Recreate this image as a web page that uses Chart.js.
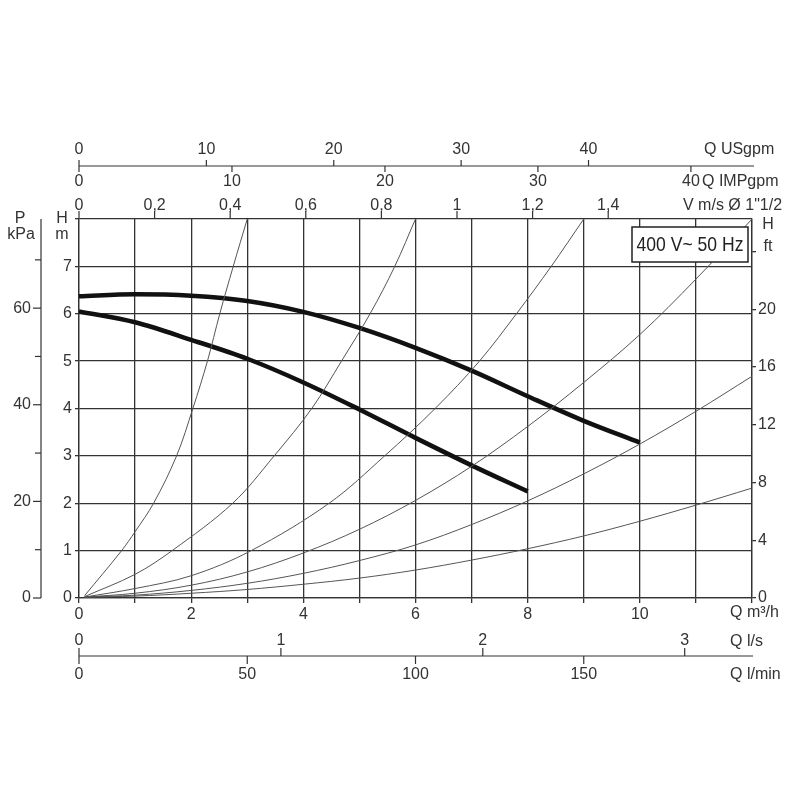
<!DOCTYPE html>
<html>
<head>
<meta charset="utf-8">
<script src="https://cdn.jsdelivr.net/npm/chart.js@4.4.1/dist/chart.umd.min.js"></script>
<style>
  html, body { margin: 0; padding: 0; background: #fff; }
  canvas { display: block; }
</style>
</head>
<body>
<canvas id="pumpChart" width="800" height="800"></canvas>
<script>
// pump curves, Q in m3/h, H in m
const pumpHighQ = [0, 1, 2, 3, 4, 5, 6, 7, 8, 9, 10];
const pumpHighH = [6.37, 6.41, 6.38, 6.27, 6.04, 5.70, 5.28, 4.80, 4.26, 3.74, 3.28];
const pumpLowQ = [0, 1, 2, 3, 4, 5, 6, 7, 8];
const pumpLowH = [6.05, 5.82, 5.45, 5.05, 4.55, 3.98, 3.38, 2.80, 2.25];

// system (pipe) curves, thin lines
const sys1Q = [0.1, 0.76, 1, 1.33, 1.74, 2.03, 2.29, 2.51, 2.75, 3.0];
const sys1H = [0.05, 1, 1.4, 2, 3, 4, 5, 6, 7, 8];
const sys2Q = [0.1, 1, 1.66, 2.74, 3.48, 4.15, 4.68, 5.19, 5.63, 6.0];
const sys2H = [0.03, 0.5, 1, 2, 3, 4, 5, 6, 7, 8];
const sys3Q = [0.1, 1, 2, 3.07, 4.46, 5.45, 6.35, 7.14, 7.8, 8.42, 9.0];
const sys3H = [0.02, 0.2, 0.47, 1, 2, 3, 4, 5, 6, 7, 8];
const sys4Q = [0.1, 1, 2, 3, 4, 5, 6, 7, 8, 9, 10, 11, 12];
const sys4H = [0.02, 0.1, 0.27, 0.55, 0.95, 1.45, 2.06, 2.78, 3.62, 4.55, 5.56, 6.73, 8.0];
const sys5Q = [0.1, 1, 2, 3, 4, 5, 6, 7, 8, 9, 10, 11, 12];
const sys5H = [0.02, 0.06, 0.16, 0.31, 0.52, 0.79, 1.12, 1.55, 2.05, 2.62, 3.25, 3.94, 4.68];
const sys6Q = [0.1, 1, 2, 3, 4, 5, 6, 7, 8, 9, 10, 11, 12];
const sys6H = [0.02, 0.04, 0.1, 0.18, 0.29, 0.42, 0.59, 0.8, 1.04, 1.31, 1.62, 1.96, 2.32];

// axis ticks
const qLabels = [0, 2, 4, 6, 8, 10];
const hLabels = [0, 1, 2, 3, 4, 5, 6, 7];
const ftTicks = [0, 4, 8, 12, 16, 20, 24];
const ftLabels = ['0', '4', '8', '12', '16', '20', ''];
const usgpmTicks = [0, 10, 20, 30, 40];
const impTicks = [0, 10, 20, 30, 40];
const velTicks = [0, 0.2, 0.4, 0.6, 0.8, 1, 1.2, 1.4];
const velLabels = ['0', '0,2', '0,4', '0,6', '0,8', '1', '1,2', '1,4'];
const lsTicks = [0, 1, 2, 3];
const lminTicks = [0, 50, 100, 150];
const kpaTicks = [0, 20, 40, 60];
const kpaMinor = [10, 30, 50, 70];

// unit conversions to m3/h and m
const USGPM = 0.2271247;
const IMPGPM = 0.2727655;
const LS = 3.6;
const LMIN = 0.06;
const VEL = 6.74; // m3/h per m/s in 1"1/2 pipe
const FT = 3.28084;
const KPA = 1 / 9.80665;

const FONT = '"Liberation Sans", Arial, sans-serif';
const gridColor = '#333';
const textColor = '#333';

Chart.defaults.color = textColor;
Chart.defaults.font.family = FONT;
Chart.defaults.font.size = 16;

function toPoints(qs, hs) {
  return qs.map((q, i) => ({ x: q, y: hs[i] }));
}

const systemCurves = [[sys1Q, sys1H], [sys2Q, sys2H], [sys3Q, sys3H], [sys4Q, sys4H], [sys5Q, sys5H], [sys6Q, sys6H]];

const datasets = systemCurves.map(([q, h]) => ({
  data: toPoints(q, h),
  borderColor: '#555',
  borderWidth: 1,
  pointRadius: 0,
  tension: 0.35,
}));
datasets.push({
  data: toPoints(pumpHighQ, pumpHighH),
  borderColor: '#111',
  borderWidth: 4.5,
  pointRadius: 0,
  cubicInterpolationMode: 'monotone',
});
datasets.push({
  data: toPoints(pumpLowQ, pumpLowH),
  borderColor: '#111',
  borderWidth: 4.5,
  pointRadius: 0,
  cubicInterpolationMode: 'monotone',
});

// extra unit axes drawn off the main scales
const extraAxes = {
  id: 'extraAxes',
  afterDatasetsDraw(chart) {
    const { ctx } = chart;
    // label box
    ctx.save();
    ctx.fillStyle = '#fff';
    ctx.strokeStyle = '#222';
    ctx.lineWidth = 1.5;
    ctx.fillRect(632, 227, 116, 35);
    ctx.strokeRect(632, 227, 116, 35);
    ctx.fillStyle = '#222';
    ctx.font = '21px ' + FONT;
    ctx.textBaseline = 'middle';
    ctx.textAlign = 'center';
    const label = '400 V~ 50 Hz';
    const w = ctx.measureText(label).width;
    ctx.translate(690, 245);
    ctx.scale(Math.min(1, 107 / w), 1);
    ctx.fillText(label, 0, 0);
    ctx.restore();
  },
  afterDraw(chart) {
    const { ctx } = chart;
    const xs = chart.scales.x;
    const ys = chart.scales.y;
    const x0 = xs.getPixelForValue(0);
    const x12 = xs.getPixelForValue(12);
    const top = ys.getPixelForValue(8);
    const bottom = ys.getPixelForValue(0);

    ctx.save();
    ctx.strokeStyle = gridColor;
    ctx.fillStyle = textColor;
    ctx.lineWidth = 1.2;
    ctx.font = '16px ' + FONT;
    ctx.textAlign = 'center';
    ctx.textBaseline = 'middle';

    const seg = (ax, ay, bx, by) => {
      ctx.beginPath();
      ctx.moveTo(ax, ay);
      ctx.lineTo(bx, by);
      ctx.stroke();
    };

    // top: USgpm above, IMPgpm below the same line
    seg(x0, 166, x12 + 2, 166);
    usgpmTicks.forEach(v => {
      const px = xs.getPixelForValue(v * USGPM);
      seg(px, 166, px, 160);
      ctx.fillText(String(v), px, 150);
    });
    impTicks.forEach(v => {
      const px = xs.getPixelForValue(v * IMPGPM);
      seg(px, 166, px, 172);
      ctx.fillText(String(v), px, 182);
    });

    // velocity on the top edge of the plot
    velTicks.forEach((v, i) => {
      const px = xs.getPixelForValue(v * VEL);
      seg(px, top, px, top - 8);
      ctx.fillText(velLabels[i], px, 206);
    });

    // bottom: l/s above, l/min below the same line
    seg(x0, 656, x12 + 1, 656);
    lsTicks.forEach(v => {
      const px = xs.getPixelForValue(v * LS);
      seg(px, 656, px, 648);
      ctx.fillText(String(v), px, 641);
    });
    lminTicks.forEach(v => {
      const px = xs.getPixelForValue(v * LMIN);
      seg(px, 656, px, 664);
      ctx.fillText(String(v), px, 675);
    });

    // kPa axis on the far left
    seg(41, top, 41, bottom);
    ctx.textAlign = 'right';
    kpaTicks.forEach(v => {
      const py = ys.getPixelForValue(v * KPA);
      seg(41, py, 33, py);
      ctx.fillText(String(v), 31, py);
    });
    kpaMinor.forEach(v => {
      const py = ys.getPixelForValue(v * KPA);
      seg(41, py, 35, py);
    });

    // axis titles
    ctx.textAlign = 'left';
    ctx.fillText('Q USgpm', 704, 150);
    ctx.fillText('Q IMPgpm', 702, 182);
    ctx.fillText('V m/s \u00D8 1"1/2', 683, 206);
    ctx.fillText('Q m\u00B3/h', 730, 613);
    ctx.fillText('Q l/s', 730, 642);
    ctx.fillText('Q l/min', 730, 675);
    ctx.textAlign = 'center';
    ctx.fillText('P', 20, 219);
    ctx.fillText('kPa', 21, 235);
    ctx.fillText('H', 62, 219);
    ctx.fillText('m', 62, 235);
    ctx.fillText('H', 768, 225);
    ctx.fillText('ft', 768, 247);
    ctx.restore();
  },
};

new Chart(document.getElementById('pumpChart'), {
  type: 'line',
  data: { datasets },
  plugins: [extraAxes],
  options: {
    responsive: false,
    animation: false,
    devicePixelRatio: 1,
    layout: { padding: { left: 49, right: 18, top: 219, bottom: 172 } },
    plugins: { legend: { display: false }, tooltip: { enabled: false } },
    scales: {
      x: {
        type: 'linear',
        min: 0,
        max: 12,
        afterFit: s => { s.height = 30; },
        ticks: {
          stepSize: 1,
          autoSkip: false,
          maxRotation: 0,
          padding: 2,
          callback: v => (qLabels.includes(v) ? String(v) : ''),
        },
        grid: { color: gridColor, lineWidth: 1.3, tickLength: 5, tickColor: gridColor },
        border: { color: gridColor, width: 1.3 },
      },
      y: {
        type: 'linear',
        position: 'left',
        min: 0,
        max: 8,
        afterFit: s => { s.width = 30; },
        ticks: {
          stepSize: 1,
          padding: 3,
          callback: v => (hLabels.includes(v) ? String(v) : ''),
        },
        grid: { color: gridColor, lineWidth: 1.3, tickLength: 4, tickColor: gridColor },
        border: { color: gridColor, width: 1.3 },
      },
      yft: {
        type: 'linear',
        position: 'right',
        min: 0,
        max: 8 * FT,
        afterFit: s => { s.width = 30; },
        afterBuildTicks: s => { s.ticks = ftTicks.map(v => ({ value: v })); },
        ticks: {
          padding: 2,
          callback: v => ftLabels[ftTicks.indexOf(v)],
        },
        grid: { drawOnChartArea: false, tickLength: 4, tickColor: gridColor, lineWidth: 1.3 },
        border: { color: gridColor, width: 1.3 },
      },
    },
  },
});
</script>
</body>
</html>
